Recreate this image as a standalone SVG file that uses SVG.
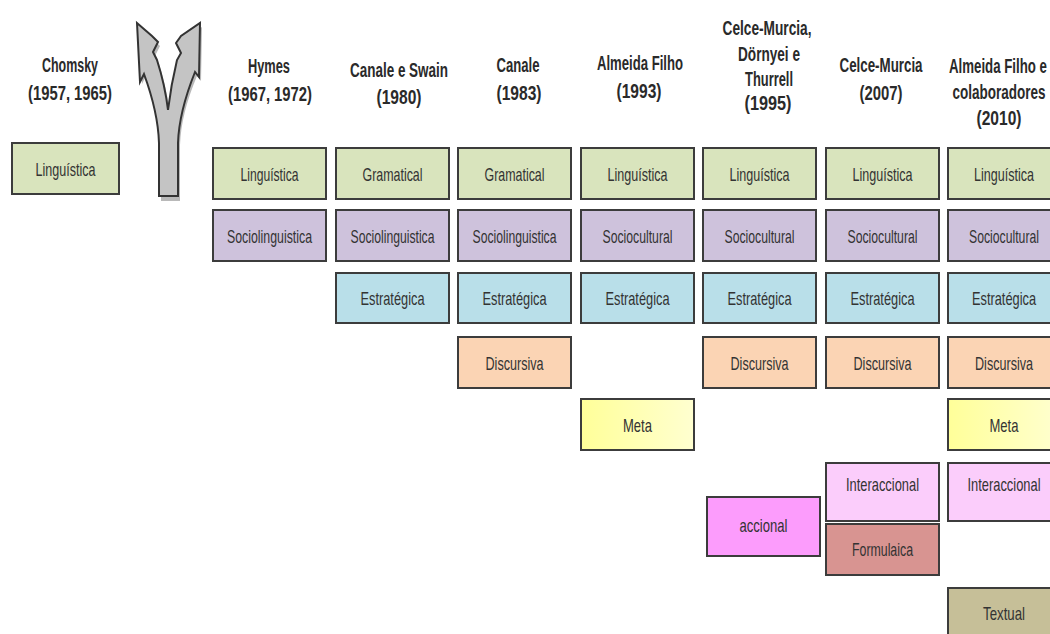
<svg xmlns="http://www.w3.org/2000/svg" width="1050" height="634" viewBox="0 0 1050 634">
<defs>
<linearGradient id="metaGrad" x1="0" y1="0" x2="1" y2="0">
<stop offset="0" stop-color="#ffff99"/>
<stop offset="1" stop-color="#ffffd0"/>
</linearGradient>
<style>
.box{stroke:#3c3c3c;stroke-width:2}
.lin{fill:#d9e4bd}
.soc{fill:#cec2dc}
.est{fill:#b9dfe9}
.dis{fill:#fbd4b4}
.meta{fill:url(#metaGrad)}
.int{fill:#fbcdfb}
.acc{fill:#fc9cfc}
.for{fill:#d89491}
.tex{fill:#c6bf98}
.lbl{font-family:"Liberation Sans",Arial,sans-serif;font-size:19px;fill:#333;text-anchor:middle}
.hdr{font-family:"Liberation Sans",Arial,sans-serif;font-size:20px;font-weight:bold;fill:#2a2a2a;text-anchor:middle}
</style>
</defs>
<rect x="0" y="0" width="1050" height="634" fill="#ffffff"/>

<g id="headers">
<text class="hdr" x="70" y="72" textLength="56" lengthAdjust="spacingAndGlyphs">Chomsky</text>
<text class="hdr" x="70" y="100" textLength="84" lengthAdjust="spacingAndGlyphs">(1957, 1965)</text>
<text class="hdr" x="269" y="73" textLength="42" lengthAdjust="spacingAndGlyphs">Hymes</text>
<text class="hdr" x="270" y="101" textLength="84" lengthAdjust="spacingAndGlyphs">(1967, 1972)</text>
<text class="hdr" x="399" y="77" textLength="98" lengthAdjust="spacingAndGlyphs">Canale e Swain</text>
<text class="hdr" x="399" y="104" textLength="45" lengthAdjust="spacingAndGlyphs">(1980)</text>
<text class="hdr" x="518" y="72" textLength="43" lengthAdjust="spacingAndGlyphs">Canale</text>
<text class="hdr" x="519" y="100" textLength="45" lengthAdjust="spacingAndGlyphs">(1983)</text>
<text class="hdr" x="640" y="70" textLength="86" lengthAdjust="spacingAndGlyphs">Almeida Filho</text>
<text class="hdr" x="639" y="98" textLength="45" lengthAdjust="spacingAndGlyphs">(1993)</text>
<text class="hdr" x="767" y="35" textLength="89" lengthAdjust="spacingAndGlyphs">Celce-Murcia,</text>
<text class="hdr" x="769" y="61" textLength="62" lengthAdjust="spacingAndGlyphs">Dörnyei e</text>
<text class="hdr" x="769" y="86" textLength="48" lengthAdjust="spacingAndGlyphs">Thurrell</text>
<text class="hdr" x="768" y="110" textLength="47" lengthAdjust="spacingAndGlyphs">(1995)</text>
<text class="hdr" x="881" y="72" textLength="83" lengthAdjust="spacingAndGlyphs">Celce-Murcia</text>
<text class="hdr" x="881" y="100" textLength="43" lengthAdjust="spacingAndGlyphs">(2007)</text>
<text class="hdr" x="998" y="73" textLength="98" lengthAdjust="spacingAndGlyphs">Almeida Filho e</text>
<text class="hdr" x="999" y="99" textLength="93" lengthAdjust="spacingAndGlyphs">colaboradores</text>
<text class="hdr" x="999" y="125" textLength="45" lengthAdjust="spacingAndGlyphs">(2010)</text>
</g>

<g id="split-arrow">
<path d="M161,201 L161,145 Q160,114 146,76 L142,84 L139,27 L154,40 L160,46 L155,56 L159,64 Q167,89 170,114 Q173,89 179,64 L183,57 L178,47 L183,40 L202,27 L201,81 L197,76 Q181,114 180,145 L180,201 Z" fill="#8a8a8a" opacity="0.6"/>
<path d="M159,196 L159,143 Q158,112 144,74 L140,82 L137,23 L152,36 L158,42 L153,52 L157,60 Q165,85 168,110 Q171,85 177,60 L181,53 L176,43 L181,36 L200,23 L199,77 L195,72 Q179,112 178,143 L178,196 Z" fill="#c4c4c4" stroke="#333" stroke-width="2" stroke-linejoin="miter"/>
</g>

<g id="chomsky-linguistica"><rect class="box lin" x="12" y="143" width="107" height="51"/><text class="lbl" x="65.5" y="176" textLength="60" lengthAdjust="spacingAndGlyphs">Linguística</text></g>

<g id="hymes-linguistica"><rect class="box lin" x="213" y="148" width="113" height="51"/><text class="lbl" x="269.5" y="181" textLength="58" lengthAdjust="spacingAndGlyphs">Linguística</text></g>
<g id="hymes-socio"><rect class="box soc" x="213" y="210" width="113" height="51"/><text class="lbl" x="269.5" y="243" textLength="85" lengthAdjust="spacingAndGlyphs">Sociolinguistica</text></g>

<g id="cs-gramatical"><rect class="box lin" x="336" y="148" width="113" height="51"/><text class="lbl" x="392.5" y="181" textLength="60" lengthAdjust="spacingAndGlyphs">Gramatical</text></g>
<g id="cs-socio"><rect class="box soc" x="336" y="210" width="113" height="51"/><text class="lbl" x="392.5" y="243" textLength="84" lengthAdjust="spacingAndGlyphs">Sociolinguistica</text></g>
<g id="cs-estrategica"><rect class="box est" x="336" y="273" width="113" height="50"/><text class="lbl" x="392.5" y="305" textLength="64" lengthAdjust="spacingAndGlyphs">Estratégica</text></g>

<g id="c-gramatical"><rect class="box lin" x="458" y="148" width="113" height="51"/><text class="lbl" x="514.5" y="181" textLength="60" lengthAdjust="spacingAndGlyphs">Gramatical</text></g>
<g id="c-socio"><rect class="box soc" x="458" y="210" width="113" height="51"/><text class="lbl" x="514.5" y="243" textLength="84" lengthAdjust="spacingAndGlyphs">Sociolinguistica</text></g>
<g id="c-estrategica"><rect class="box est" x="458" y="273" width="113" height="50"/><text class="lbl" x="514.5" y="305" textLength="64" lengthAdjust="spacingAndGlyphs">Estratégica</text></g>
<g id="c-discursiva"><rect class="box dis" x="458" y="337" width="113" height="51"/><text class="lbl" x="514.5" y="370" textLength="58" lengthAdjust="spacingAndGlyphs">Discursiva</text></g>

<g id="af93-linguistica"><rect class="box lin" x="581" y="148" width="113" height="51"/><text class="lbl" x="637.5" y="181" textLength="60" lengthAdjust="spacingAndGlyphs">Linguística</text></g>
<g id="af93-sociocultural"><rect class="box soc" x="581" y="210" width="113" height="51"/><text class="lbl" x="637.5" y="243" textLength="70" lengthAdjust="spacingAndGlyphs">Sociocultural</text></g>
<g id="af93-estrategica"><rect class="box est" x="581" y="273" width="113" height="50"/><text class="lbl" x="637.5" y="305" textLength="64" lengthAdjust="spacingAndGlyphs">Estratégica</text></g>
<g id="af93-meta"><rect class="box meta" x="581" y="399" width="113" height="51"/><text class="lbl" x="637.5" y="432" textLength="29" lengthAdjust="spacingAndGlyphs">Meta</text></g>

<g id="cm95-linguistica"><rect class="box lin" x="703" y="148" width="113" height="51"/><text class="lbl" x="759.5" y="181" textLength="60" lengthAdjust="spacingAndGlyphs">Linguística</text></g>
<g id="cm95-sociocultural"><rect class="box soc" x="703" y="210" width="113" height="51"/><text class="lbl" x="759.5" y="243" textLength="70" lengthAdjust="spacingAndGlyphs">Sociocultural</text></g>
<g id="cm95-estrategica"><rect class="box est" x="703" y="273" width="113" height="50"/><text class="lbl" x="759.5" y="305" textLength="64" lengthAdjust="spacingAndGlyphs">Estratégica</text></g>
<g id="cm95-discursiva"><rect class="box dis" x="703" y="337" width="113" height="51"/><text class="lbl" x="759.5" y="370" textLength="58" lengthAdjust="spacingAndGlyphs">Discursiva</text></g>
<g id="cm95-accional"><rect class="box acc" x="707" y="497" width="113" height="59"/><text class="lbl" x="763.5" y="532" textLength="48" lengthAdjust="spacingAndGlyphs">accional</text></g>

<g id="cm07-linguistica"><rect class="box lin" x="826" y="148" width="113" height="51"/><text class="lbl" x="882.5" y="181" textLength="60" lengthAdjust="spacingAndGlyphs">Linguística</text></g>
<g id="cm07-sociocultural"><rect class="box soc" x="826" y="210" width="113" height="51"/><text class="lbl" x="882.5" y="243" textLength="70" lengthAdjust="spacingAndGlyphs">Sociocultural</text></g>
<g id="cm07-estrategica"><rect class="box est" x="826" y="273" width="113" height="50"/><text class="lbl" x="882.5" y="305" textLength="64" lengthAdjust="spacingAndGlyphs">Estratégica</text></g>
<g id="cm07-discursiva"><rect class="box dis" x="826" y="337" width="113" height="51"/><text class="lbl" x="882.5" y="370" textLength="58" lengthAdjust="spacingAndGlyphs">Discursiva</text></g>
<g id="cm07-interaccional"><rect class="box int" x="826" y="463" width="113" height="58"/><text class="lbl" x="882.5" y="491" textLength="73" lengthAdjust="spacingAndGlyphs">Interaccional</text></g>
<g id="cm07-formulaica"><rect class="box for" x="826" y="524" width="113" height="51"/><text class="lbl" x="882.5" y="556" textLength="61" lengthAdjust="spacingAndGlyphs">Formulaica</text></g>

<g id="af10-linguistica"><rect class="box lin" x="948" y="148" width="113" height="51"/><text class="lbl" x="1004" y="181" textLength="60" lengthAdjust="spacingAndGlyphs">Linguística</text></g>
<g id="af10-sociocultural"><rect class="box soc" x="948" y="210" width="113" height="51"/><text class="lbl" x="1004" y="243" textLength="70" lengthAdjust="spacingAndGlyphs">Sociocultural</text></g>
<g id="af10-estrategica"><rect class="box est" x="948" y="273" width="113" height="50"/><text class="lbl" x="1004" y="305" textLength="64" lengthAdjust="spacingAndGlyphs">Estratégica</text></g>
<g id="af10-discursiva"><rect class="box dis" x="948" y="337" width="113" height="51"/><text class="lbl" x="1004" y="370" textLength="58" lengthAdjust="spacingAndGlyphs">Discursiva</text></g>
<g id="af10-meta"><rect class="box meta" x="948" y="399" width="113" height="51"/><text class="lbl" x="1004" y="432" textLength="29" lengthAdjust="spacingAndGlyphs">Meta</text></g>
<g id="af10-interaccional"><rect class="box int" x="948" y="463" width="113" height="58"/><text class="lbl" x="1004" y="491" textLength="73" lengthAdjust="spacingAndGlyphs">Interaccional</text></g>
<g id="af10-textual"><rect class="box tex" x="948" y="588" width="113" height="51"/><text class="lbl" x="1004" y="620" textLength="42" lengthAdjust="spacingAndGlyphs">Textual</text></g>

<g id="connectors"></g>
</svg>
